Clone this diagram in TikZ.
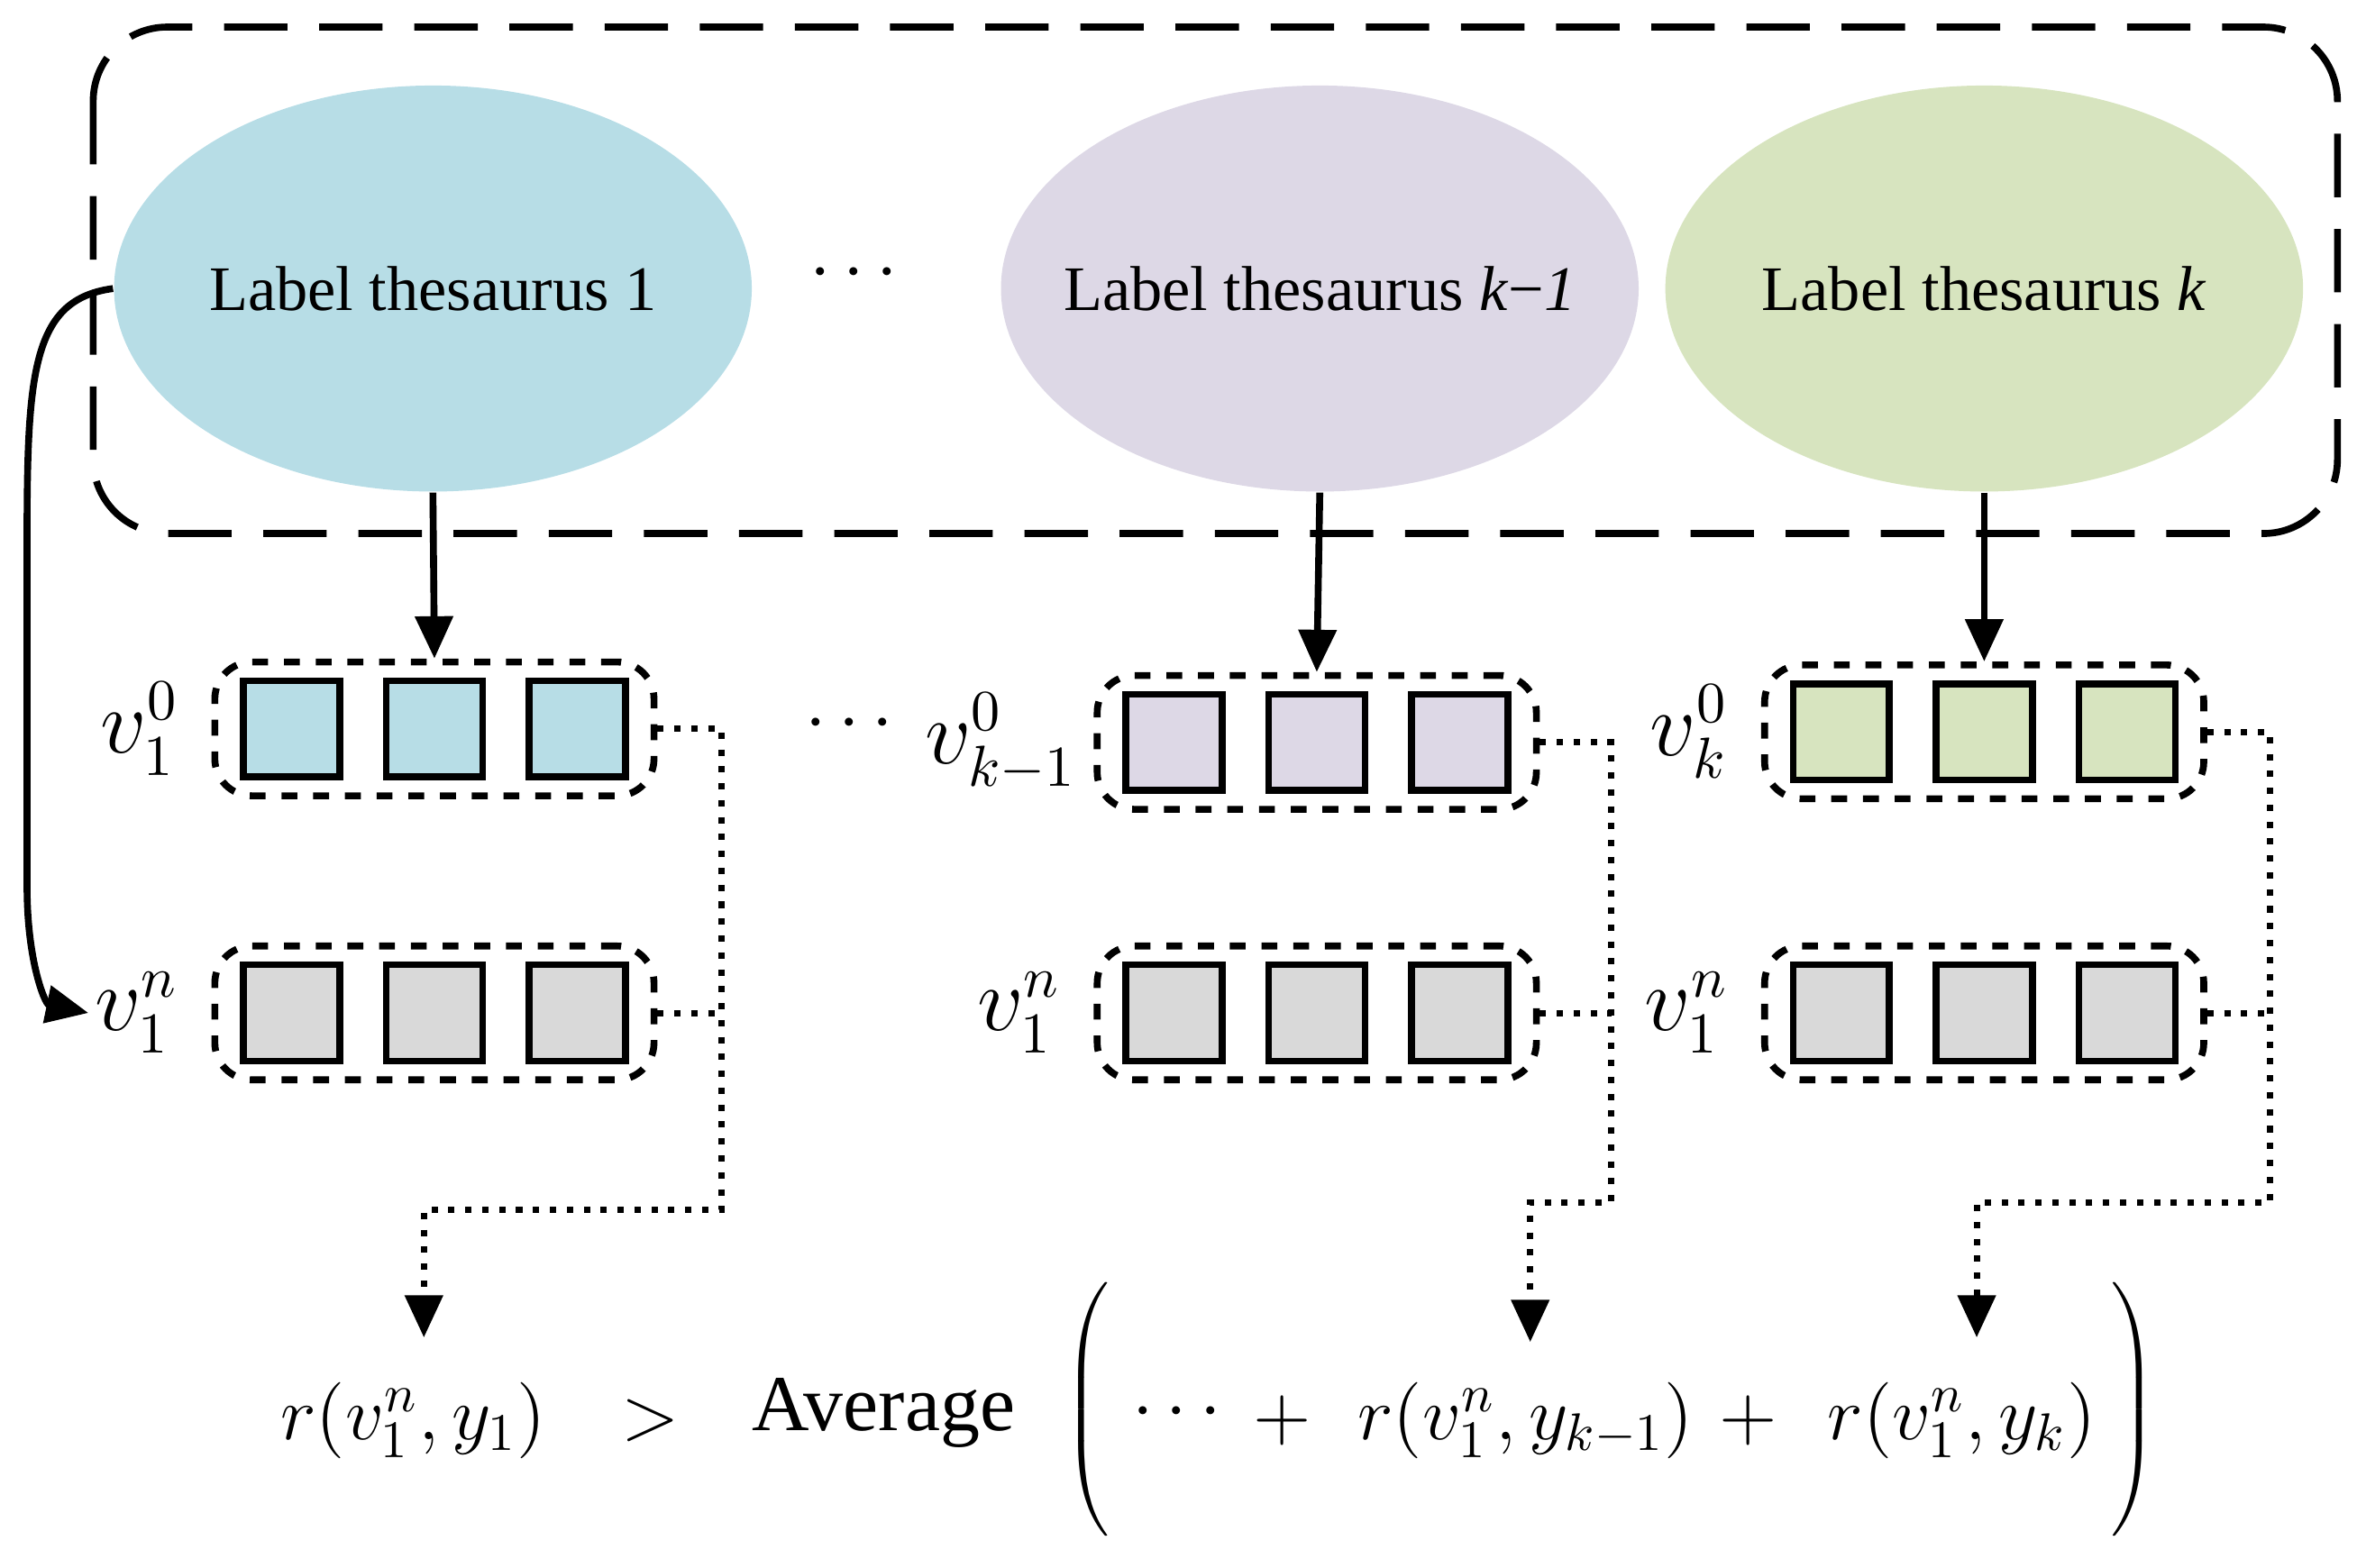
\documentclass[tikz,border=0pt]{standalone}
\usepackage{fontspec}
\setmainfont{Liberation Serif}
\usetikzlibrary{shapes.geometric,arrows.meta}
\definecolor{cblue}{HTML}{B7DDE6}
\definecolor{cpurple}{HTML}{DDD8E6}
\definecolor{cgreen}{HTML}{D7E4BF}
\definecolor{cgray}{HTML}{D9D9D9}
\tikzset{
  thes/.style={ellipse, minimum width=4.24cm, minimum height=2.7cm, inner xsep=-0.35cm, inner ysep=0pt, font=\fontsize{12}{14}\selectfont},
  grp/.style={draw, dashed, line width=1.3pt, rounded corners=7pt, minimum width=2.92cm, minimum height=0.89cm},
  cell/.style={draw, line width=1.3pt, minimum size=0.64cm, inner sep=0pt},
  lab/.style={font=\fontsize{16}{19}\selectfont, inner sep=1pt},
  frm/.style={font=\fontsize{14}{17}\selectfont, inner sep=1pt},
  arr/.style={-{Triangle[length=8pt,width=7pt]}, line width=1.3pt},
  dots/.style={dotted, line width=1.2pt}
}
\begin{document}
\begin{tikzpicture}[x=0.01cm,y=-0.01cm]
\useasboundingbox (0,0) rectangle (1568,1043);
% outer dashed frame
\draw[dashed, line width=1.3pt, dash pattern=on 12pt off 6pt, rounded corners=14pt] (62,18) rectangle (1555,355);
\node[thes, fill=cblue] (t1) at (288,192) {Label thesaurus 1};
\node[thes, fill=cpurple] (tk1) at (878,192) {Label thesaurus \textit{k}−\textit{1}};
\node[thes, fill=cgreen] (tk) at (1320,192) {Label thesaurus \textit{k}};
\node[frm] (d1) at (568,182) {$\cdots$};
% vector groups
\node[grp] (a1) at (289,485) {};
\node[grp] (ak1) at (876,494) {};
\node[grp] (ak) at (1320,487) {};
\node[grp] (b1) at (289,674) {};
\node[grp] (bk1) at (876,674) {};
\node[grp] (bk) at (1320,674) {};
\foreach \g/\c in {a1/cblue, ak1/cpurple, ak/cgreen, b1/cgray, bk1/cgray, bk/cgray} {
  \node[cell, fill=\c] at ([xshift=-0.95cm]\g.center) {};
  \node[cell, fill=\c] at (\g.center) {};
  \node[cell, fill=\c] at ([xshift=0.95cm]\g.center) {};
}
\node[frm] (d2) at (565,482) {$\cdots$};
\node[lab, anchor=east] (la1) at ([xshift=-5pt]a1.west) {$v_1^0$};
\node[lab, anchor=east] (lak1) at ([xshift=-2pt]ak1.west) {$v_{k-1}^0$};
\node[lab, anchor=east] (lak) at ([xshift=-5pt]ak.west) {$v_k^0$};
\node[lab, anchor=east] (lb1) at ([xshift=-5pt]b1.west) {$v_1^n$};
\node[lab, anchor=east] (lbk1) at ([xshift=-5pt]bk1.west) {$v_1^n$};
\node[lab, anchor=east] (lbk) at ([xshift=-5pt]bk.west) {$v_1^n$};
% arrows from thesauri
\draw[arr] (t1.south) -- (a1.north);
\draw[arr] (tk1.south) -- (ak1.north);
\draw[arr] (tk.south) -- (ak.north);
\draw[arr] (t1.west) .. controls (15,200) and (18,260) .. (18,400) -- (18,590) .. controls (18,640) and (30,668) .. (lb1.west);
% bottom formula
\node[frm] (r1) at (275,945) {$r\bigl(v_1^n, y_1\bigr)$};
\node[frm] (gt) at (433,945) {$>$};
\node[font=\fontsize{15}{18}\selectfont] (avg) at (588,940) {Average};
\node[frm] (lp) at (725,942) {$\left(\rule[-0.8cm]{0pt}{1.6cm}\right.$};
\node[frm] (d3) at (783,940) {$\cdots$};
\node[frm] (p1) at (853,945) {$+$};
\node[frm] (rk1) at (1015,945) {$r\bigl(v_1^n, y_{k-1}\bigr)$};
\node[frm] (p2) at (1163,945) {$+$};
\node[frm] (rk) at (1305,945) {$r\bigl(v_1^n, y_k\bigr)$};
\node[frm] (rp) at (1418,942) {$\left.\rule[-0.8cm]{0pt}{1.6cm}\right)$};
% dotted links
\coordinate (c1) at (480,805);
\coordinate (ck1) at (1072,800);
\coordinate (ck) at (1510,800);
\draw[dots] (a1.east) -| (c1) -| (282,862);
\draw[dots] (b1.east) -- (b1.east -| c1);
\draw[arr] (282,862) -- (282,890);
\draw[dots] (ak1.east) -| (ck1) -| (1018,865);
\draw[dots] (bk1.east) -- (bk1.east -| ck1);
\draw[arr] (1018,865) -- (1018,893);
\draw[dots] (ak.east) -| (ck) -| (1315,862);
\draw[dots] (bk.east) -- (bk.east -| ck);
\draw[arr] (1315,862) -- (1315,890);
\end{tikzpicture}
\end{document}
